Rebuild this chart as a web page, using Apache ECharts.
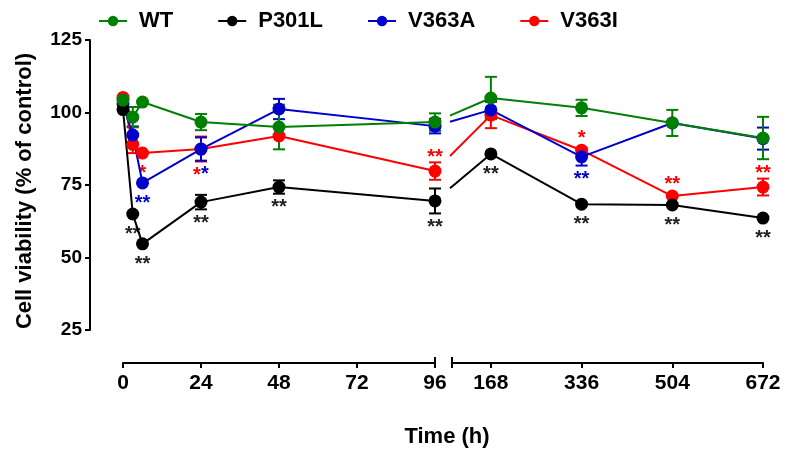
<!DOCTYPE html>
<html><head><meta charset="utf-8">
<script src="https://cdn.jsdelivr.net/npm/echarts@6/dist/echarts.min.js"></script>
<style>html,body{margin:0;padding:0;background:#fff}#c{width:786px;height:450px}</style>
</head><body><div id="c"></div>
<script>
// ---- data ----
const timesEarly = [0, 3, 6, 24, 48, 96];
const timesLate = [168, 336, 504, 672];
const xTicksEarly = [0, 24, 48, 72, 96];
const xTicksLate = [168, 336, 504, 672];
const yTicks = [25, 50, 75, 100, 125];
const seriesNames = ['WT', 'P301L', 'V363A', 'V363I'];

const wtMean    = [104.3, 98.4, 103.6, 96.7, 95.0, 96.7, 105.0, 101.6, 96.4, 91.2];
const wtErr     = [1.5, 3.5, 2.0, 2.8, 7.7, 3.0, 7.3, 2.8, 4.5, 7.3];
const p301lMean = [101.0, 65.0, 54.7, 69.1, 74.3, 69.5, 85.7, 68.4, 68.1, 63.6];
const p301lErr  = [1.5, 1.0, 1.0, 2.5, 2.3, 4.3, 0.5, 0.5, 0.5, 0.5];
const v363aMean = [103.0, 92.2, 75.7, 87.4, 101.2, 95.3, 100.9, 84.7, 96.4, 91.0];
const v363aErr  = [2.0, 3.0, 1.5, 4.0, 3.5, 2.5, 3.0, 3.0, 1.5, 3.8];
const v363iMean = [105.2, 89.0, 86.0, 87.4, 91.9, 79.8, 99.1, 87.0, 71.2, 74.3];
const v363iErr  = [1.5, 3.0, 2.0, 4.3, 1.0, 3.0, 4.5, 1.0, 1.0, 2.9];

const wtSig    = ['', '', '', '', '', '', '', '', '', ''];
const p301lSig = ['', '**', '**', '**', '**', '**', '**', '**', '**', '**'];
const v363aSig = ['', '', '**', '*', '', '', '', '**', '', ''];
const v363iSig = ['', '', '*', '*', '', '**', '', '*', '**', '**'];
// which significance marks sit above the point (others sit below)
const v363iSigAbove = [false, false, false, false, false, true, false, true, true, true];

// ---- styling ----
const FONT = "'Liberation Sans', Arial, sans-serif";
const allTimes = timesEarly.concat(timesLate);
const groups = [
  // drawing order: red bottom, green top
  { name: 'V363I', color: '#ff0000', mean: v363iMean, err: v363iErr, sig: v363iSig, above: v363iSigAbove },
  { name: 'V363A', color: '#0000cc', mean: v363aMean, err: v363aErr, sig: v363aSig, above: null },
  { name: 'P301L', color: '#000000', mean: p301lMean, err: p301lErr, sig: p301lSig, above: null },
  { name: 'WT',    color: '#008000', mean: wtMean,    err: wtErr,    sig: wtSig,    above: null }
];
// horizontal spread for single stars of two series placed at the same spot
function sigShift(g, i) {
  const a = groups.find(x => x.name === 'V363A'), r = groups.find(x => x.name === 'V363I');
  if (a.sig[i] === '*' && r.sig[i] === '*' && !r.above[i] && Math.abs(a.mean[i] - r.mean[i]) < 2) {
    if (g.name === 'V363I') return -4;
    if (g.name === 'V363A') return 4;
  }
  return 0;
}

const R = 6.5; // marker radius
function makeErrSeries(g, gridIdx, offset, n) {
  const data = [];
  for (let k = 0; k < n; k++) {
    const i = offset + k;
    data.push([allTimes[i], g.mean[i], g.err[i], i]);
  }
  return {
    name: g.name + '-err', type: 'custom', xAxisIndex: gridIdx, yAxisIndex: gridIdx,
    clip: false, silent: true, data: data,
    renderItem: function (params, api) {
      const t = api.value(0), m = api.value(1), e = api.value(2), i = api.value(3);
      const c = api.coord([t, m]), top = api.coord([t, m + e]), bot = api.coord([t, m - e]);
      const ch = [];
      const ls = { stroke: g.color, lineWidth: 2 };
      if (e > 0 && (bot[1] - top[1]) > 2 * R) {
        ch.push({ type: 'line', shape: { x1: c[0], y1: top[1], x2: c[0], y2: bot[1] }, style: ls });
        ch.push({ type: 'line', shape: { x1: c[0] - 6, y1: top[1], x2: c[0] + 6, y2: top[1] }, style: ls });
        ch.push({ type: 'line', shape: { x1: c[0] - 6, y1: bot[1], x2: c[0] + 6, y2: bot[1] }, style: ls });
      }
      const s = g.sig[i];
      if (s) {
        const isAbove = g.above ? g.above[i] : false;
        const dx = sigShift(g, i);
        let yc;
        if (isAbove) {
          const edge = Math.min(top[1], c[1] - R);
          yc = edge - 9;
        } else {
          const edge = Math.max(bot[1], c[1] + R);
          yc = edge + 10;
        }
        ch.push({ type: 'text', style: { text: s, x: c[0] + dx, y: yc + 4, align: 'center', verticalAlign: 'middle',
          fill: g.color === '#000000' ? '#222' : g.color, font: 'bold 20px ' + FONT } });
      }
      return { type: 'group', children: ch };
    }
  };
}
function makeLineSeries(g, gridIdx, offset, n) {
  const data = [];
  for (let k = 0; k < n; k++) data.push([allTimes[offset + k], g.mean[offset + k]]);
  return {
    name: g.name, type: 'line', xAxisIndex: gridIdx, yAxisIndex: gridIdx, data: data,
    symbol: 'circle', symbolSize: 13, showAllSymbol: true,
    lineStyle: { color: g.color, width: 2 }, itemStyle: { color: g.color },
    emphasis: { disabled: true }
  };
}

const series = [];
groups.forEach(g => {
  series.push(makeErrSeries(g, 0, 0, timesEarly.length));
  series.push(makeLineSeries(g, 0, 0, timesEarly.length));
  series.push(makeErrSeries(g, 1, timesEarly.length, timesLate.length));
  series.push(makeLineSeries(g, 1, timesEarly.length, timesLate.length));
});

const axisLineStyle = { color: '#000', width: 2 };
const xLabel = { fontSize: 21, fontWeight: 'bold', fontFamily: FONT, color: '#000', margin: 10 };

const option = {
  animation: false,
  backgroundColor: '#fff',
  legend: {
    data: seriesNames, left: 93, top: 5, itemWidth: 28, itemHeight: 13, itemGap: 44,
    textStyle: { fontSize: 22, fontWeight: 'bold', fontFamily: FONT, color: '#000', padding: [0, 0, 0, 7] }
  },
  grid: [
    { left: 123, top: 40, width: 312, height: 290 },
    { left: 452, top: 40, width: 311, height: 290 }
  ],
  xAxis: [
    { gridIndex: 0, type: 'value', min: xTicksEarly[0], max: xTicksEarly[xTicksEarly.length - 1], interval: 24,
      position: 'bottom', offset: 33,
      axisLine: { onZero: false, lineStyle: axisLineStyle }, axisTick: { length: 5, lineStyle: axisLineStyle },
      axisLabel: Object.assign({ showMinLabel: true, showMaxLabel: true }, xLabel), splitLine: { show: false } },
    { gridIndex: 1, type: 'value', min: timesEarly[timesEarly.length - 1], max: xTicksLate[xTicksLate.length - 1],
      position: 'bottom', offset: 33,
      axisLine: { onZero: false, lineStyle: axisLineStyle },
      axisTick: { length: 5, lineStyle: axisLineStyle, customValues: xTicksLate },
      axisLabel: Object.assign({ customValues: xTicksLate }, xLabel), splitLine: { show: false } }
  ],
  yAxis: [
    { gridIndex: 0, type: 'value', min: yTicks[0], max: yTicks[yTicks.length - 1], interval: 25,
      position: 'left', offset: 33,
      axisLine: { show: true, onZero: false, lineStyle: axisLineStyle },
      axisTick: { show: true, length: 5, lineStyle: axisLineStyle },
      axisLabel: { fontSize: 19, fontWeight: 'bold', fontFamily: FONT, color: '#000', margin: 8, showMinLabel: true, showMaxLabel: true },
      splitLine: { show: false },
      name: 'Cell viability (% of control)', nameLocation: 'middle', nameRotate: 90, nameGap: 54,
      nameTextStyle: { fontSize: 22, fontWeight: 'bold', fontFamily: FONT, color: '#000', padding: [0, 12, 0, 0] } },
    { gridIndex: 1, type: 'value', min: yTicks[0], max: yTicks[yTicks.length - 1], show: false, splitLine: { show: false } }
  ],
  series: series
};

const chart = echarts.init(document.getElementById('c'), null, { renderer: 'canvas' });
chart.setOption(option);

// connectors across the axis break, axis break marks, and x axis title
const graphics = [];
const breakStartX = chart.convertToPixel({ xAxisIndex: 0 }, timesEarly[timesEarly.length - 1]);
const seg2StartX = chart.convertToPixel({ xAxisIndex: 1 }, timesEarly[timesEarly.length - 1]);
const seg2EndX = chart.convertToPixel({ xAxisIndex: 1 }, xTicksLate[xTicksLate.length - 1]);
const seg1StartX = chart.convertToPixel({ xAxisIndex: 0 }, 0);
const li = timesEarly.length - 1, fi = timesEarly.length;
groups.forEach(g => {
  const p1 = chart.convertToPixel({ gridIndex: 0 }, [allTimes[li], g.mean[li]]);
  const p2 = chart.convertToPixel({ gridIndex: 1 }, [allTimes[fi], g.mean[fi]]);
  const sx = seg2StartX - 2;
  const sy = p1[1] + (p2[1] - p1[1]) * (sx - p1[0]) / (p2[0] - p1[0]);
  graphics.push({ type: 'line', z: 1, silent: true, shape: { x1: sx, y1: sy, x2: p2[0], y2: p2[1] },
    style: { stroke: g.color, lineWidth: 2 } });
});
const axisY = chart.convertToPixel({ yAxisIndex: 0 }, yTicks[0]) + 33;
[breakStartX, seg2StartX].forEach(x => {
  graphics.push({ type: 'line', silent: true, shape: { x1: x, y1: axisY - 6, x2: x, y2: axisY + 5 },
    style: { stroke: '#000', lineWidth: 2 } });
});
graphics.push({ type: 'text', silent: true, style: { text: 'Time (h)', x: (seg1StartX + seg2EndX) / 2 + 4, y: 437,
  align: 'center', verticalAlign: 'middle', font: 'bold 22px ' + FONT, fill: '#000' } });
chart.setOption({ graphic: graphics });
</script>
</body></html>
